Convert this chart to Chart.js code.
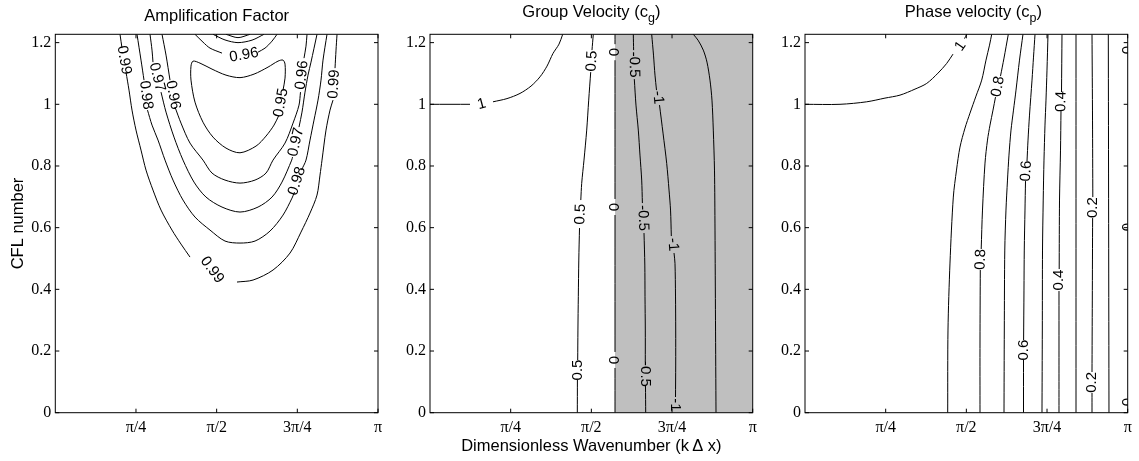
<!DOCTYPE html>
<html lang="en">
<head>
<meta charset="utf-8">
<title>Amplification factor, group and phase velocity</title>
<script src="https://cdn.jsdelivr.net/npm/chart.js"></script>
<style>
  body { margin: 0; background: #fff; }
  #wrap { position: relative; width: 1139px; height: 461px; }
  #wrap canvas { position: absolute; left: 0; top: 0; }
</style>
</head>
<body>
<div id="wrap">
  <canvas id="ampChart" width="1139" height="461"></canvas>
  <canvas id="groupChart" width="1139" height="461"></canvas>
  <canvas id="phaseChart" width="1139" height="461"></canvas>
</div>
<script>
// x = k*dx in units of pi, y = CFL number
const xTicks = [0.25, 0.5, 0.75, 1];
const xTickLabels = ['π/4', 'π/2', '3π/4', 'π'];
const yTicks = [0, 0.2, 0.4, 0.6, 0.8, 1, 1.2];
const cflMax = 1.227;

// ---- amplification factor contours (each level = list of segments, gaps are label spots)
const amp099 = [
  [[0.2005,1.227],[0.2067,1.1822]],
  [[0.2191,1.1044],[0.2284,1.046],[0.2377,0.9812],[0.2501,0.9164],[0.2656,0.8515],[0.2811,0.7867],[0.3027,0.7219],[0.3276,0.6571],[0.3616,0.5922],[0.3895,0.5468],[0.4174,0.5047]],
  [[0.5631,0.4237],[0.6127,0.4301],[0.6747,0.4626],[0.7274,0.5177],[0.7614,0.5857],[0.7893,0.6474],[0.811,0.7057],[0.8203,0.7705],[0.8265,0.8191],[0.8389,0.9164],[0.8513,0.9812],[0.8606,1.0136]],
  [[0.8668,1.1173],[0.8699,1.1757],[0.873,1.227]]
];
const amp098 = [
  [[0.2532,1.227],[0.2656,1.1433],[0.2749,1.0785]],
  [[0.2857,0.9812],[0.2997,0.9326],[0.3183,0.884],[0.34,0.8191],[0.3647,0.7543],[0.3957,0.6895],[0.4329,0.6344],[0.4794,0.5922],[0.5259,0.5566],[0.5724,0.5501],[0.6189,0.5566],[0.6654,0.589],[0.7057,0.6408],[0.7336,0.696],[0.7412,0.7154]],
  [[0.7629,0.7867],[0.7769,0.8191],[0.7893,0.884],[0.8017,0.9488],[0.8141,1.0136],[0.8234,1.0785],[0.8296,1.1433],[0.842,1.227]]
];
const amp097 = [
  [[0.2935,1.227],[0.2997,1.1757],[0.3027,1.1368]],
  [[0.3276,1.0395],[0.3431,0.9747],[0.3678,0.8937],[0.3957,0.8191],[0.4298,0.7478],[0.467,0.6992],[0.5166,0.6668],[0.5724,0.6506],[0.6282,0.6668],[0.6716,0.6992],[0.7025,0.7478],[0.7326,0.8191],[0.7351,0.8288]],
  [[0.7552,0.9261],[0.7645,0.9747],[0.7738,1.0395],[0.7831,1.0946],[0.7924,1.1368],[0.811,1.227]]
];
const amp096 = [
  [[0.3307,1.227],[0.3431,1.1595],[0.3554,1.0785]],
  [[0.3709,0.9909],[0.3895,0.9391],[0.4174,0.8743],[0.4577,0.8191],[0.4856,0.777],[0.5259,0.7543],[0.5724,0.7445],[0.6189,0.7543],[0.653,0.777],[0.6747,0.8191],[0.7119,0.8743],[0.7367,0.9391],[0.7552,0.9974],[0.7598,1.0395]],
  [[0.7707,1.1497],[0.7769,1.1886],[0.78,1.227]]
];
const amp095 = [
  [[0.6932,0.965],[0.6778,0.9326],[0.653,0.897],[0.622,0.8645],[0.5724,0.8428],[0.529,0.858],[0.4887,0.8937],[0.4577,0.942],[0.4329,1.0071],[0.4205,1.0785],[0.4205,1.1238],[0.4267,1.14],[0.4484,1.1335],[0.4856,1.1141],[0.529,1.0946],[0.5724,1.0865],[0.6158,1.0979],[0.6592,1.1206],[0.6902,1.14],[0.7057,1.1433],[0.7119,1.1303],[0.7119,1.0849],[0.7057,1.046]]
];
const amp096Top = [
  [[0.4329,1.227],[0.4577,1.2016],[0.4794,1.1822],[0.5166,1.166]],
  [[0.6282,1.1692],[0.6499,1.1822],[0.6716,1.2049],[0.6871,1.227]]
];
const amp095Top = [[[0.4887,1.227],[0.5259,1.2087],[0.5662,1.2],[0.6096,1.2081],[0.6468,1.227]]];
const amp094Top = [[[0.529,1.227],[0.5662,1.2162],[0.6034,1.227]]];
// [text, k/pi, CFL, angle in degrees]
const ampLabels = [
  ['0.99', 0.2129, 1.1433, 80], ['0.98', 0.2810, 1.0298, 83], ['0.97', 0.3152, 1.0882, 76],
  ['0.96', 0.3647, 1.0298, 79], ['0.96', 0.7645, 1.0946, -84], ['0.95', 0.6994, 1.0055, -80],
  ['0.97', 0.7459, 0.8775, -77], ['0.98', 0.7490, 0.7510, -72], ['0.99', 0.8637, 1.0655, -86],
  ['0.99', 0.4856, 0.4626, 53], ['0.96', 0.5848, 1.1595, -10]
];

// ---- group velocity contours
const cgZeroK = 0.5733;   // cg = 0, negative to the right (shaded)
const cg1 = [
  [[0,1.0],[0.124,1.0]],
  [[0.1952,1.0081],[0.2386,1.0185],[0.2789,1.0353],[0.313,1.059],[0.3409,1.0891],[0.3626,1.1238],[0.3812,1.165],[0.3998,1.1951],[0.4112,1.227]]
];
const cg05 = [
  [[0.506,1.227],[0.502,1.1757]],
  [[0.498,1.1044],[0.4918,1.0136],[0.4856,0.9164],[0.4772,0.8191],[0.4701,0.7436],[0.4673,0.6895]],
  [[0.4633,0.5987],[0.4611,0.495],[0.4596,0.376],[0.4584,0.2681],[0.4577,0.1708]],
  [[0.4568,0.106],[0.4565,0]]
];
const cg0 = [
  [[cgZeroK,1.227],[cgZeroK,1.195]],
  [[cgZeroK,1.143],[cgZeroK,0.693]],
  [[cgZeroK,0.641],[cgZeroK,0.197]],
  [[cgZeroK,0.145],[cgZeroK,0]]
];
const cgm05 = [
  [[0.63,1.227],[0.631,1.1757]],
  [[0.6331,1.0817],[0.6383,0.9974],[0.6455,0.9164],[0.6507,0.8353],[0.656,0.7543],[0.6582,0.6798]],
  [[0.6632,0.5825],[0.6657,0.4788],[0.6663,0.376],[0.6672,0.2681],[0.6672,0.1643]],
  [[0.6678,0.0865],[0.6684,0]]
];
const cgm1 = [
  [[0.687,1.227],[0.6926,1.1595],[0.6972,1.0946],[0.7019,1.046]],
  [[0.7112,0.9974],[0.7221,0.9067],[0.7335,0.8084],[0.7407,0.7219],[0.7454,0.6571],[0.7478,0.5728]],
  [[0.7562,0.5177],[0.7592,0.4843],[0.7608,0.3783],[0.7614,0.2681],[0.7614,0.1546],[0.7608,0.0509]]
];
const cgm15 = [
  [[0.8159,1.227],[0.8305,1.2081],[0.8469,1.1757],[0.8583,1.1368],[0.8676,1.0785],[0.8738,1.0136],[0.8779,0.9164],[0.8816,0.7867],[0.8832,0.5922],[0.8847,0.2997],[0.8863,0]]
];
const cgLabels = [
  ['1', 0.1602, 1.0006, -15],
  ['0.5', 0.502, 1.14, -87], ['0.5', 0.4664, 0.6441, -88], ['0.5', 0.4571, 0.1384, -90],
  ['0', cgZeroK, 1.1692, -90], ['0', cgZeroK, 0.6668, -90], ['0', cgZeroK, 0.1708, -90],
  ['-0.5', 0.6321, 1.1287, 89], ['-0.5', 0.6601, 0.6311, 88], ['-0.5', 0.6672, 0.1254, 90],
  ['-1', 0.7066, 1.0217, 85], ['-1', 0.753, 0.5452, 86], ['-1', 0.7608, 0.025, 90]
];

// ---- phase velocity contours
const cp1 = [
  [[0,1.0],[0.1085,1.0],[0.1912,1.0081],[0.2479,1.0201],[0.2944,1.0298],[0.3409,1.0493],[0.3771,1.0677],[0.4121,1.1011],[0.4391,1.1326],[0.4586,1.1627]],
  [[0.4943,1.213],[0.5011,1.227]]
];
const cp09 = [[[0.4422,0],[0.4431,0.2681],[0.4493,0.4853],[0.4596,0.6992],[0.4695,0.7867],[0.4803,0.8613],[0.4958,0.9229],[0.5113,0.9715],[0.5299,1.0266],[0.5476,1.0785],[0.5609,1.1433],[0.5718,1.1919],[0.5786,1.227]]];
const cp08 = [
  [[0.5423,0],[0.5423,0.2357],[0.5432,0.4626]],
  [[0.546,0.5306],[0.55,0.6571],[0.5578,0.8094],[0.5655,0.884],[0.5733,0.9326],[0.5826,0.9812],[0.5903,1.0233]],
  [[0.6058,1.0914],[0.6167,1.1498],[0.63,1.227]]
];
const cp07 = [[[0.6167,0],[0.6176,0.2681],[0.6191,0.5274],[0.6228,0.6571],[0.6275,0.7543],[0.6321,0.8353],[0.6384,0.9164],[0.6461,0.9812],[0.6539,1.046],[0.6647,1.1433],[0.6755,1.227]]];
const cp06 = [
  [[0.6771,0],[0.6771,0.1708]],
  [[0.6774,0.2357],[0.6786,0.3977],[0.6795,0.5274],[0.6817,0.6571],[0.6833,0.751]],
  [[0.688,0.8159],[0.6911,0.884],[0.6957,0.965],[0.7035,1.0785],[0.7081,1.153],[0.7128,1.227]]
];
const cp05 = [[[0.7344,0],[0.7354,0.2681],[0.736,0.5274],[0.7382,0.6895],[0.7406,0.8191],[0.7437,0.9326],[0.7468,1.0136],[0.7499,1.1109],[0.753,1.227]]];
const cp04 = [
  [[0.7871,0],[0.7871,0.2032],[0.7871,0.3945]],
  [[0.7877,0.4658],[0.7887,0.6895],[0.7918,0.8515],[0.7933,0.978]],
  [[0.7949,1.0395],[0.7964,1.227]]
];
const cp03 = [[[0.8398,0],[0.8398,1.227]]];
const cp02 = [
  [[0.8894,0],[0.8894,0.0639]],
  [[0.8894,0.1319],[0.8903,0.3653],[0.8913,0.6311]],
  [[0.8919,0.6992],[0.891,0.9488],[0.8894,1.227]]
];
const cp01 = [[[0.942,0],[0.9399,1.227]]];
const cpLabels = [
  ['1', 0.4818, 1.1886, -55],
  ['0.8', 0.5981, 1.0574, -80], ['0.8', 0.5448, 0.4966, -88],
  ['0.6', 0.6859, 0.7835, -86], ['0.6', 0.6771, 0.2028, -90],
  ['0.4', 0.794, 1.0087, -89], ['0.4', 0.7874, 0.4302, -90],
  ['0.2', 0.8916, 0.6652, -90], ['0.2', 0.8894, 0.0982, -90],
  ['0', 1, 1.1757, -90], ['0', 1, 0.6019, -90], ['0', 1, 0.0347, -90]
];

// ---- layout
const CANVAS_W = 1139, CANVAS_H = 461;
const PLOT_TOP = 34.3, PLOT_BOTTOM = 412.7, Y_AXIS_W = 45, TICK_LEN = 4;
const SANS = '"Liberation Sans", Arial, Helvetica, sans-serif';
const SERIF = '"Liberation Serif", "Times New Roman", serif';

function toPoints(segments) {
  const pts = [];
  segments.forEach((seg, i) => {
    if (i > 0) pts.push({x: seg[0][0], y: null});
    seg.forEach(p => pts.push({x: p[0], y: p[1]}));
  });
  return pts;
}

function contourSet(segments) {
  return {
    data: toPoints(segments),
    borderColor: '#000',
    borderWidth: 1,
    pointRadius: 0,
    tension: 0.3,
    fill: false
  };
}

function drawTitle(ctx, parts, cx, baseline) {
  const pieces = parts.map((t, i) => ({
    t, font: (i === 1 ? '12.5px ' : '16.5px ') + SANS, dy: i === 1 ? 5 : 0
  }));
  let total = 0;
  pieces.forEach(p => { ctx.font = p.font; p.w = ctx.measureText(p.t).width; total += p.w; });
  let xPos = cx - total / 2;
  ctx.textAlign = 'left';
  ctx.textBaseline = 'alphabetic';
  pieces.forEach(p => { ctx.font = p.font; ctx.fillText(p.t, xPos, baseline + p.dy); xPos += p.w; });
}

function panelDecor(cfg) {
  return {
    id: 'panelDecor',
    afterDatasetsDraw(chart) {
      const {ctx, chartArea: a} = chart;
      const xs = chart.scales.x, ys = chart.scales.y;
      // contour labels
      ctx.save();
      ctx.beginPath();
      ctx.rect(a.left, a.top, a.right - a.left, a.bottom - a.top);
      ctx.clip();
      ctx.fillStyle = '#000';
      ctx.font = '15px ' + SANS;
      ctx.textAlign = 'center';
      ctx.textBaseline = 'middle';
      cfg.labels.forEach(([text, k, cfl, deg]) => {
        ctx.save();
        ctx.translate(xs.getPixelForValue(k), ys.getPixelForValue(cfl));
        ctx.rotate(deg * Math.PI / 180);
        ctx.fillText(text, 0, 0);
        ctx.restore();
      });
      ctx.restore();
      // box with inward ticks
      ctx.save();
      ctx.strokeStyle = '#000';
      ctx.lineWidth = 1;
      ctx.strokeRect(a.left, a.top, a.right - a.left, a.bottom - a.top);
      ctx.beginPath();
      xTicks.forEach(v => {
        const px = xs.getPixelForValue(v);
        ctx.moveTo(px, a.bottom); ctx.lineTo(px, a.bottom - TICK_LEN);
        ctx.moveTo(px, a.top); ctx.lineTo(px, a.top + TICK_LEN);
      });
      yTicks.forEach(v => {
        const py = ys.getPixelForValue(v);
        ctx.moveTo(a.left, py); ctx.lineTo(a.left + TICK_LEN, py);
        ctx.moveTo(a.right, py); ctx.lineTo(a.right - TICK_LEN, py);
      });
      ctx.stroke();
      ctx.restore();
    },
    afterDraw(chart) {
      const {ctx, chartArea: a} = chart;
      ctx.save();
      ctx.fillStyle = '#000';
      drawTitle(ctx, cfg.title, (a.left + a.right) / 2 + (cfg.titleShift || 0), cfg.titleBaseline);
      if (cfg.yTitle) {
        ctx.save();
        ctx.translate(22.5, (a.top + a.bottom) / 2);
        ctx.rotate(-Math.PI / 2);
        ctx.font = '16.5px ' + SANS;
        ctx.textAlign = 'center';
        ctx.textBaseline = 'alphabetic';
        ctx.fillText(cfg.yTitle, 0, 0);
        ctx.restore();
      }
      if (cfg.xTitle) {
        ctx.font = '16.5px ' + SANS;
        ctx.textAlign = 'center';
        ctx.textBaseline = 'alphabetic';
        ctx.fillText(cfg.xTitle, (a.left + a.right) / 2, 451);
      }
      ctx.restore();
    }
  };
}

function makeChart(id, left, right, datasets, cfg) {
  return new Chart(document.getElementById(id), {
    type: 'line',
    data: { datasets },
    options: {
      responsive: false,
      animation: false,
      devicePixelRatio: 1,
      events: [],
      layout: { padding: { left: left - Y_AXIS_W, right: CANVAS_W - right, top: PLOT_TOP, bottom: 0 } },
      plugins: { legend: { display: false }, tooltip: { enabled: false } },
      scales: {
        x: {
          type: 'linear', min: 0, max: 1,
          grid: { display: false, drawTicks: false },
          border: { display: false },
          afterBuildTicks: s => { s.ticks = xTicks.map(v => ({ value: v })); },
          afterFit: s => { s.height = CANVAS_H - PLOT_BOTTOM; },
          ticks: {
            autoSkip: false, maxRotation: 0, padding: 5, color: '#000',
            font: { family: SERIF, size: 16 },
            callback: v => xTickLabels[xTicks.indexOf(v)]
          }
        },
        y: {
          type: 'linear', min: 0, max: cflMax,
          grid: { display: false, drawTicks: false },
          border: { display: false },
          afterBuildTicks: s => { s.ticks = yTicks.map(v => ({ value: v })); },
          afterFit: s => { s.width = Y_AXIS_W; },
          ticks: {
            padding: 4, color: '#000',
            font: { family: SERIF, size: 16 },
            callback: v => String(v)
          }
        }
      }
    },
    plugins: [panelDecor(cfg)]
  });
}

makeChart('ampChart', 55.3, 378,
  [amp099, amp098, amp097, amp096, amp095, amp096Top, amp095Top, amp094Top].map(contourSet),
  { labels: ampLabels, title: ['Amplification Factor'], titleBaseline: 21, yTitle: 'CFL number' });

const groupSets = [cg1, cg05, cg0, cgm05, cgm1, cgm15].map(contourSet);
groupSets.push({
  data: [{ x: cgZeroK, y: cflMax }, { x: 1, y: cflMax }],
  borderWidth: 0, pointRadius: 0, fill: 'start', backgroundColor: '#bfbfbf', order: 1
});
makeChart('groupChart', 430, 752.7, groupSets,
  { labels: cgLabels, title: ['Group Velocity (c', 'g', ')'], titleBaseline: 17,
    xTitle: 'Dimensionless Wavenumber (k\u2009Δ x)' });

makeChart('phaseChart', 805, 1127.7,
  [cp1, cp09, cp08, cp07, cp06, cp05, cp04, cp03, cp02, cp01].map(contourSet),
  { labels: cpLabels, title: ['Phase velocity (c', 'p', ')'], titleBaseline: 17, titleShift: 7 });
</script>
</body>
</html>
